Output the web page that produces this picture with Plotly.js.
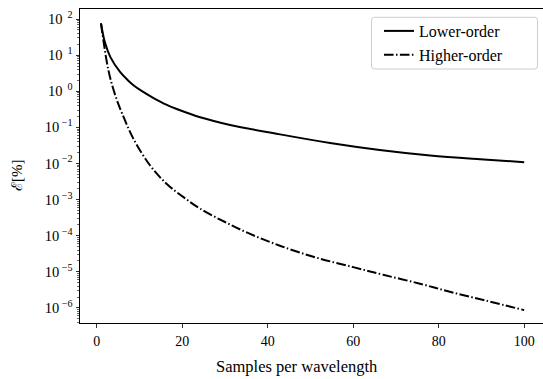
<!DOCTYPE html>
<html>
<head>
<meta charset="utf-8">
<script src="https://cdn.plot.ly/plotly-3.0.1.min.js"></script>
<style>html,body{margin:0;padding:0;background:#fff;}#chart{width:543px;height:379px;}</style>
</head>
<body>
<div id="chart"></div>
<script>
// Data
const xLower = [1, 1.9, 3.2, 5.5, 7.4, 8.6, 10.5, 13.2, 16.4, 19.5, 24.2, 31.2, 42.9, 54.6, 66.2, 78, 89.7, 100];
const yLower = [76, 23, 8.8, 3.37, 1.96, 1.47, 1.02, 0.66, 0.42, 0.297, 0.19, 0.117, 0.064, 0.037, 0.0237, 0.0167, 0.0131, 0.0109];

const xHigher = [1, 2.3, 3.1, 4.5, 6.0, 8.6, 12.5, 16.4, 20.3, 24.2, 30, 35.9, 43, 51.5, 60, 67, 75.6, 82.6, 91, 100];
const yHigher = [76, 7.1, 2.49, 0.678, 0.234, 0.048, 0.0088, 0.0027, 0.00117, 0.00056, 0.00024, 0.000112, 5.2e-5, 2.45e-5, 1.35e-5, 8.3e-6, 4.7e-6, 2.8e-6, 1.6e-6, 8.7e-7];

const seriesNames = ["Lower-order", "Higher-order"];
const xTickVals = [0, 20, 40, 60, 80, 100];
const yExponents = [2, 1, 0, -1, -2, -3, -4, -5, -6];
const xTitle = "Samples per wavelength";
const yTitle = "ℰ[%]";

const FONT = "Liberation Serif";

const yTickVals = yExponents.map(e => Math.pow(10, e));
const yTickText = yExponents.map(e => e < 0
  ? "10<sup> −" + (-e) + "</sup>"
  : "10<sup>\u00a0\u00a0" + e + "</sup>");
const minorVals = [];
for (let e = -7; e <= 2; e++) for (let m = 2; m <= 9; m++) minorVals.push(m * Math.pow(10, e));

const traces = [
  {x: xLower, y: yLower, name: seriesNames[0], mode: "lines",
   line: {color: "#000", width: 2, shape: "spline", smoothing: 1}},
  {x: xHigher, y: yHigher, name: seriesNames[1], mode: "lines",
   line: {color: "#000", width: 2, shape: "spline", smoothing: 1, dash: "9.6px,2.4px,1.5px,2.4px"}}
];

// legend frame with rounded corners (paper coords)
const W = 463, H = 314;
const lx0 = (371.5 - 80) / W, lx1 = (537.5 - 80) / W;
const ly1 = (323 - 17.3) / H, ly0 = (323 - 69) / H;
const rx = 3 / W, ry = 3 / H;
const legendPath = `M ${lx0 + rx} ${ly1} L ${lx1 - rx} ${ly1} Q ${lx1} ${ly1} ${lx1} ${ly1 - ry} L ${lx1} ${ly0 + ry} Q ${lx1} ${ly0} ${lx1 - rx} ${ly0} L ${lx0 + rx} ${ly0} Q ${lx0} ${ly0} ${lx0} ${ly0 + ry} L ${lx0} ${ly1 - ry} Q ${lx0} ${ly1} ${lx0 + rx} ${ly1} Z`;

const layout = {
  width: 543, height: 379,
  margin: {l: 80, r: 0, t: 9, b: 56},
  paper_bgcolor: "#fff", plot_bgcolor: "#fff",
  font: {family: FONT, size: 14, color: "#000"},
  showlegend: true,
  legend: {x: (379 - 80) / W, y: (323 - 14) / H, xanchor: "left", yanchor: "top",
           bgcolor: "rgba(0,0,0,0)", borderwidth: 0,
           font: {family: FONT, size: 16, color: "#000"}, tracegroupgap: 0},
  xaxis: {range: [-3.91, 104.4], tickvals: xTickVals, ticks: "outside", ticklen: 3.5, tickwidth: 0.8,
          tickcolor: "#000", showline: true, linecolor: "#000", linewidth: 1, mirror: true,
          ticklabelstandoff: 2,
          showgrid: false, zeroline: false, tickfont: {family: FONT, size: 14, color: "#000"}},
  yaxis: {type: "log", range: [-6.417, 2.278], tickvals: yTickVals, ticktext: yTickText,
          ticks: "outside", ticklen: 3.5, tickwidth: 0.8, tickcolor: "#000",
          ticklabelstandoff: 0,
          showline: true, linecolor: "#000", linewidth: 1, showgrid: false, zeroline: false,
          tickfont: {family: FONT, size: 14.5, color: "#000"},
          minor: {tickvals: minorVals, ticks: "outside", ticklen: 2, tickwidth: 0.6, tickcolor: "#000", showgrid: false}},
  shapes: [{type: "path", xref: "paper", yref: "paper", path: legendPath,
            line: {color: "#cccccc", width: 1}, fillcolor: "rgba(255,255,255,0.8)", layer: "below"}],
  annotations: [
    {text: xTitle, xref: "paper", yref: "paper", x: (297 - 80) / W, y: (323 - 366) / H,
     xanchor: "center", yanchor: "middle", showarrow: false, font: {family: FONT, size: 16.5, color: "#000"}},
    {text: yTitle, xref: "paper", yref: "paper", x: (17 - 80) / W, y: (323 - 175) / H,
     xanchor: "center", yanchor: "middle", textangle: -90, showarrow: false, font: {family: FONT, size: 15, color: "#000"}}
  ]
};

Plotly.newPlot("chart", traces, layout, {displayModeBar: false, staticPlot: true});
</script>
</body>
</html>
